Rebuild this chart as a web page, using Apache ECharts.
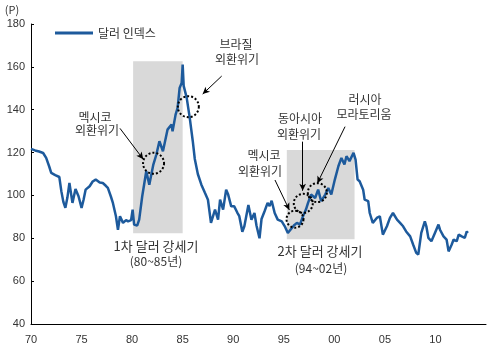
<!DOCTYPE html>
<html>
<head>
<meta charset="utf-8">
<title>달러 인덱스</title>
<script src="https://cdn.jsdelivr.net/npm/echarts@6/dist/echarts.min.js"></script>
<style>
  html, body { margin: 0; padding: 0; background: #fff; }
  #myChart { width: 495px; height: 354px; }
</style>
</head>
<body>
<div id="myChart"></div>
<script>
// 달러 인덱스 (연도, 지수) - 그림에서 읽은 값
const years = [
  1970.0, 1970.4, 1970.8, 1971.2, 1971.5, 1971.8, 1972.0, 1972.4, 1972.8, 1973.0,
  1973.2, 1973.4, 1973.6, 1973.8, 1974.1, 1974.4, 1974.7, 1975.0, 1975.2, 1975.4,
  1975.8, 1976.1, 1976.4, 1976.8, 1977.1, 1977.4, 1977.6, 1977.9, 1978.1, 1978.4,
  1978.6, 1978.8, 1979.1, 1979.4, 1979.6, 1979.9, 1980.05, 1980.2, 1980.5, 1980.7,
  1981.0, 1981.4, 1981.7, 1982.1, 1982.4, 1982.7, 1983.05, 1983.5, 1983.9, 1984.0,
  1984.3, 1984.5, 1984.7, 1984.9, 1985.0, 1985.1, 1985.4, 1985.7, 1986.0, 1986.2,
  1986.5, 1986.85, 1987.2, 1987.5, 1987.8, 1988.2, 1988.5, 1988.7, 1989.0, 1989.3,
  1989.5, 1989.8, 1990.1, 1990.4, 1990.6, 1990.9, 1991.1, 1991.5, 1991.8, 1992.1,
  1992.3, 1992.6, 1992.8, 1993.1, 1993.4, 1993.6, 1993.8, 1994.1, 1994.4, 1994.8,
  1995.1, 1995.4, 1995.8, 1996.0, 1996.3, 1996.6, 1996.9, 1997.2, 1997.4, 1997.7,
  1998.1, 1998.4, 1998.7, 1999.1, 1999.4, 1999.7, 2000.05, 2000.4, 2000.7, 2001.0,
  2001.2, 2001.5, 2001.9, 2002.1, 2002.3, 2002.5, 2002.85, 2003.0, 2003.35, 2003.5,
  2003.8, 2004.2, 2004.5, 2004.8, 2005.2, 2005.5, 2005.8, 2006.2, 2006.5, 2006.8,
  2007.1, 2007.5, 2007.8, 2008.1, 2008.3, 2008.6, 2008.95, 2009.1, 2009.3, 2009.6,
  2009.95, 2010.3, 2010.45, 2010.8, 2011.1, 2011.3, 2011.6, 2011.8, 2012.1, 2012.3,
  2012.6, 2012.9, 2013.1, 2013.2
];
const dollarIndex = [
  121.7, 121.0, 120.5, 119.8, 117.5, 113.5, 110.5, 109.5, 108.6, 102.0,
  97.0, 94.2, 99.0, 105.8, 96.5, 103.0, 99.6, 94.2, 98.0, 102.7,
  104.3, 106.5, 107.4, 106.0, 105.8, 104.5, 103.5, 99.5, 96.5, 90.3,
  84.0, 90.3, 87.2, 88.5, 87.9, 88.5, 93.4, 86.4, 85.9, 88.7,
  99.6, 111.3, 105.0, 114.4, 119.1, 125.3, 120.6, 130.7, 133.1, 129.9,
  137.7, 140.9, 150.2, 152.5, 161.1, 151.1, 145.5, 136.2, 125.3, 117.0,
  110.0, 105.0, 101.2, 98.0, 87.2, 93.4, 88.7, 98.0, 93.4, 102.7,
  100.4, 94.9, 94.9, 92.0, 90.3, 83.0, 85.6, 95.5, 88.7, 91.8,
  86.0, 80.0, 89.0, 92.6, 96.5, 95.0, 97.5, 91.8, 88.7, 87.9,
  85.6, 82.5, 84.8, 86.0, 87.2, 86.4, 90.3, 93.5, 96.5, 100.4,
  98.8, 102.7, 97.3, 100.4, 103.5, 100.4, 107.4, 113.6, 117.5, 114.4,
  118.3, 116.0, 119.9, 116.7, 107.4, 106.6, 102.7, 98.0, 97.3, 91.8,
  87.2, 89.5, 90.3, 81.7, 85.6, 89.5, 91.8, 88.7, 87.2, 85.6,
  83.2, 80.9, 77.0, 73.2, 72.4, 82.5, 87.9, 85.6, 80.2, 78.6,
  82.5, 86.4, 84.0, 80.9, 79.4, 73.9, 77.0, 79.4, 78.6, 81.7,
  80.9, 80.2, 83.2, 82.5
];
const yTicks = [40, 60, 80, 100, 120, 140, 160, 180];
const xTicks = [1970, 1975, 1980, 1985, 1990, 1995, 2000, 2005, 2010];

// 강세기 구간, 위기 표시 (데이터 좌표)
const strongPeriods = [
  [[1980.1, 82.3], [1985.0, 162.6]],
  [[1995.3, 79.5], [2002.0, 121.2]]
];
const crisisCircles = [
  [1982.12, 115.0, 21],
  [1985.56, 141.4, 21],
  [1996.11, 88.9, 17],
  [1996.93, 96.3, 19],
  [1998.32, 101.3, 19]
];
const arrows = [
  [[1978.8, 131.3], [1981.1, 116.9]],
  [[1988.86, 155.7], [1986.98, 147.3]],
  [[1994.13, 107.2], [1995.55, 93.2]],
  [[1996.83, 125.1], [1996.87, 102.2]],
  [[2001.06, 132.1], [1998.32, 105.7]]
];

const font = "'Noto Sans CJK KR', 'Liberation Sans', sans-serif";
const txtColor = '#333';

function label (x, y, text, size) {
  return {
    type: 'text', x: x, y: y, silent: true,
    style: {
      text: text, fill: txtColor, font: (size || 12) + 'px ' + font,
      textAlign: 'center', textVerticalAlign: 'middle'
    }
  };
}

let myChart = echarts.init(document.getElementById('myChart'), null, { renderer: 'canvas' });
myChart.setOption({
  animation: false,
  grid: { left: 31, right: 9, top: 24, bottom: 30, containLabel: false },
  legend: {
    left: 50, top: 22, itemWidth: 38, itemHeight: 3, itemGap: 6,
    icon: 'rect',
    textStyle: { fontFamily: font, fontSize: 12, color: txtColor },
    data: ['달러 인덱스']
  },
  xAxis: {
    type: 'value', min: 1970, max: 2015, interval: 5,
    axisLine: { lineStyle: { color: '#000', width: 1 } },
    axisTick: { show: false },
    splitLine: { show: false },
    axisLabel: {
      color: txtColor, fontSize: 11, fontFamily: 'Liberation Sans', margin: 10,
      showMaxLabel: false,
      formatter: v => (xTicks.indexOf(v) >= 0 ? String(v % 100).padStart(2, '0') : '')
    }
  },
  yAxis: {
    type: 'value', min: yTicks[0], max: yTicks[yTicks.length - 1], interval: 20,
    axisLine: { show: true, lineStyle: { color: '#000', width: 1 } },
    axisTick: { show: true, inside: true, length: 3, lineStyle: { color: '#000' } },
    splitLine: { show: false },
    axisLabel: { color: txtColor, fontSize: 11, fontFamily: 'Liberation Sans', margin: 6 }
  },
  series: [
    {
      name: '달러 인덱스',
      type: 'line',
      showSymbol: false,
      lineStyle: { color: '#1d5a9c', width: 2.5 },
      itemStyle: { color: '#1d5a9c' },
      data: years.map((y, i) => [y, dollarIndex[i]]),
      markArea: {
        silent: true,
        itemStyle: { color: '#d9d9d9' },
        data: strongPeriods.map(p => [{ coord: p[0] }, { coord: p[1] }])
      },
      markPoint: {
        silent: true,
        symbol: 'circle',
        label: { show: false },
        itemStyle: { color: 'rgba(0,0,0,0)', borderColor: '#000', borderWidth: 2, borderType: 'dotted' },
        data: crisisCircles.map(c => ({ coord: [c[0], c[1]], symbolSize: c[2] }))
      },
      markLine: {
        silent: true,
        symbol: ['none', 'arrow'],
        symbolSize: [5, 7],
        label: { show: false },
        lineStyle: { color: '#000', width: 1, type: 'solid' },
        data: arrows.map(a => [{ coord: a[0] }, { coord: a[1] }])
      }
    }
  ],
  graphic: [
    label(12, 10, '(P)', 11),
    label(95, 117, '멕시코'),
    label(97, 130, '외환위기'),
    label(236, 44, '브라질'),
    label(237, 59, '외환위기'),
    label(264, 155, '멕시코'),
    label(260, 171, '외환위기'),
    label(300, 118, '동아시아'),
    label(299, 134, '외환위기'),
    label(365, 99, '러시아'),
    label(364, 114, '모라토리움'),
    label(156, 246, '1차 달러 강세기', 13),
    label(156, 261, '(80~85년)', 12),
    label(320, 251, '2차 달러 강세기', 13),
    label(321, 268, '(94~02년)', 12)
  ]
});
</script>
</body>
</html>
